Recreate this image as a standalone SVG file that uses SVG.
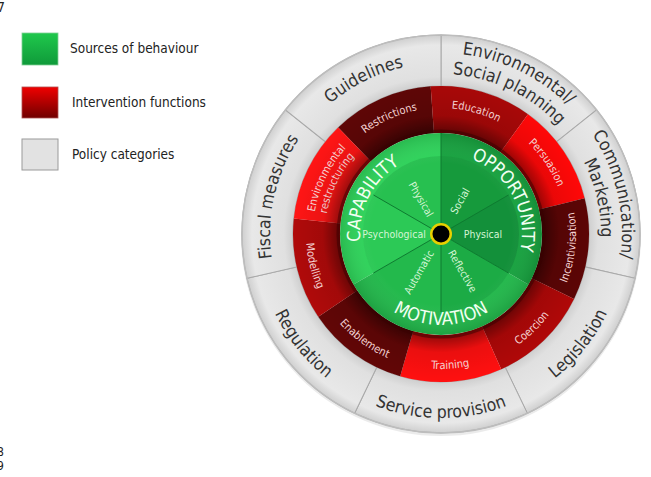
<svg xmlns="http://www.w3.org/2000/svg" xmlns:xlink="http://www.w3.org/1999/xlink" width="651" height="477" viewBox="0 0 651 477">
<style>
.f{font-family:"DejaVu Sans Condensed","DejaVu Sans",sans-serif;font-stretch:condensed}
.leg{font-size:13.5px;fill:#222}
.gl{font-size:17.5px;fill:#333}
.rl{font-size:11px;fill:#ffdcdc}
.gm{font-size:18px;fill:#f2fff2}
.gs{font-size:10.5px;fill:#d4f5d4}
.seg{stroke:#a9a9a9;stroke-width:1}
</style>
<defs>
<radialGradient id="gGray" gradientUnits="userSpaceOnUse" cx="441" cy="234" r="199">
<stop offset="0.74" stop-color="#cdcdcd"/>
<stop offset="0.79" stop-color="#e0e0e0"/>
<stop offset="0.95" stop-color="#e8e8e8"/>
<stop offset="1" stop-color="#cfcfcf"/>
</radialGradient>
<radialGradient id="gRed" gradientUnits="userSpaceOnUse" cx="441" cy="234" r="148">
<stop offset="0.68" stop-color="#000" stop-opacity="0.45"/>
<stop offset="0.8" stop-color="#000" stop-opacity="0.08"/>
<stop offset="1" stop-color="#000" stop-opacity="0"/>
</radialGradient>
<radialGradient id="gGreen" gradientUnits="userSpaceOnUse" cx="441" cy="234" r="101">
<stop offset="0.7" stop-color="#fff" stop-opacity="0"/>
<stop offset="1" stop-color="#000" stop-opacity="0.12"/>
</radialGradient>
<linearGradient id="lgG" x1="0" y1="0" x2="0" y2="1"><stop offset="0" stop-color="#1fc84c"/><stop offset="1" stop-color="#0f9a3a"/></linearGradient>
<linearGradient id="lgR" x1="0" y1="0" x2="0" y2="1"><stop offset="0" stop-color="#f00000"/><stop offset="1" stop-color="#700000"/></linearGradient>
<path id="graySeg" d="M354.66,54.71 A199,199 0 0 1 527.34,54.71 L505.21,100.66 A148,148 0 0 0 376.79,100.66 Z"/>
<path id="redSeg" d="M390.38,94.93 A148,148 0 0 1 491.62,94.93 L475.54,139.09 A101,101 0 0 0 406.46,139.09 Z"/>
<path id="wedge120" d="M441,234 L353.53,183.5 A101,101 0 0 1 528.47,183.5 Z"/>
<path id="wedge60" d="M441,234 L402,166.45 A78,78 0 0 1 480,166.45 Z"/>
<path id="cw171" d="M292.91,148.5 A171,171 0 0 1 589.09,148.5"/>
<path id="cw181" d="M284.25,143.5 A181,181 0 0 1 597.75,143.5"/>
<path id="cw160" d="M302.44,154 A160,160 0 0 1 579.56,154"/>
<path id="cw126" d="M331.88,171 A126,126 0 0 1 550.12,171"/>
<path id="cw128" d="M330.15,170 A128,128 0 0 1 551.85,170"/>
<path id="cw116" d="M340.54,176 A116,116 0 0 1 541.46,176"/>
<path id="cw81" d="M370.85,193.5 A81,81 0 0 1 511.15,193.5"/>
<path id="ccw184" d="M281.65,326 A184,184 0 0 0 600.35,326"/>
<path id="ccw135" d="M324.09,301.5 A135,135 0 0 0 557.91,301.5"/>
<path id="ccw91" d="M362.19,279.5 A91,91 0 0 0 519.81,279.5"/>
</defs>

<g class="f" fill="#222">
<text x="-3" y="12" font-size="14">7</text>
<text x="-3" y="456" font-size="12">8</text>
<text x="-3" y="470" font-size="12">9</text>
</g>

<g id="legend-sources">
<rect x="22" y="33" width="36" height="32" fill="url(#lgG)" stroke="#7fcf95" stroke-width="0.8"/>
<text class="f leg" x="70" y="53">Sources of behaviour</text>
</g>
<g id="legend-interventions">
<rect x="22" y="87" width="36" height="31" fill="url(#lgR)" stroke="#b05050" stroke-width="0.8"/>
<text class="f leg" x="72" y="107">Intervention functions</text>
</g>
<g id="legend-policy">
<rect x="22" y="139" width="36" height="31" fill="#e2e2e2" stroke="#9a9a9a" stroke-width="1"/>
<text class="f leg" x="72" y="159">Policy categories</text>
</g>

<!-- Policy categories -->
<g id="policy-ring">
<circle cx="441" cy="236" r="200" fill="#000" opacity="0.08"/>
<g id="env-social-planning">
<use href="#graySeg" class="seg" fill="url(#gGray)" transform="rotate(25.714 441 234)"/>
<text class="f gl" transform="rotate(25.714 441 234)"><textPath href="#cw181" startOffset="50%" text-anchor="middle">Environmental/</textPath></text>
<text class="f gl" transform="rotate(25.714 441 234)"><textPath href="#cw160" startOffset="50%" text-anchor="middle">Social planning</textPath></text>
</g>
<g id="communication-marketing">
<use href="#graySeg" class="seg" fill="url(#gGray)" transform="rotate(77.143 441 234)"/>
<text class="f gl" transform="rotate(77.143 441 234)"><textPath href="#cw181" startOffset="50%" text-anchor="middle">Communication/</textPath></text>
<text class="f gl" transform="rotate(77.143 441 234)"><textPath href="#cw160" startOffset="50%" text-anchor="middle">Marketing</textPath></text>
</g>
<g id="legislation">
<use href="#graySeg" class="seg" fill="url(#gGray)" transform="rotate(128.571 441 234)"/>
<text class="f gl" transform="rotate(-51.429 441 234)"><textPath href="#ccw184" startOffset="50%" text-anchor="middle">Legislation</textPath></text>
</g>
<g id="service-provision">
<use href="#graySeg" class="seg" fill="url(#gGray)" transform="rotate(180 441 234)"/>
<text class="f gl"><textPath href="#ccw184" startOffset="50%" text-anchor="middle">Service provision</textPath></text>
</g>
<g id="regulation">
<use href="#graySeg" class="seg" fill="url(#gGray)" transform="rotate(231.429 441 234)"/>
<text class="f gl" transform="rotate(51.429 441 234)"><textPath href="#ccw184" startOffset="50%" text-anchor="middle">Regulation</textPath></text>
</g>
<g id="fiscal-measures">
<use href="#graySeg" class="seg" fill="url(#gGray)" transform="rotate(282.857 441 234)"/>
<text class="f gl" transform="rotate(-77.143 441 234)"><textPath href="#cw171" startOffset="50%" text-anchor="middle">Fiscal measures</textPath></text>
</g>
<g id="guidelines">
<use href="#graySeg" class="seg" fill="url(#gGray)" transform="rotate(334.286 441 234)"/>
<text class="f gl" transform="rotate(-26.5 441 234)"><textPath href="#cw171" startOffset="50%" text-anchor="middle">Guidelines</textPath></text>
</g>
<circle cx="441" cy="234" r="199" fill="none" stroke="#bdbdbd" stroke-width="1.5"/>
</g>

<!-- Intervention functions -->
<g id="intervention-ring">
<g id="restrictions">
<use href="#redSeg" fill="#5e0606" transform="rotate(-24 441 234)"/>
<text class="f rl" transform="rotate(-24 441 234)"><textPath href="#cw126" startOffset="50%" text-anchor="middle">Restrictions</textPath></text>
</g>
<g id="education">
<use href="#redSeg" fill="#a80808" transform="rotate(16 441 234)"/>
<text class="f rl" transform="rotate(16 441 234)"><textPath href="#cw126" startOffset="50%" text-anchor="middle">Education</textPath></text>
</g>
<g id="persuasion">
<use href="#redSeg" fill="#ff0808" transform="rotate(56 441 234)"/>
<text class="f rl" transform="rotate(56 441 234)"><textPath href="#cw126" startOffset="50%" text-anchor="middle">Persuasion</textPath></text>
</g>
<g id="incentivisation">
<use href="#redSeg" fill="#5c0505" transform="rotate(96 441 234)"/>
<text class="f rl" transform="rotate(-84 441 234)"><textPath href="#ccw135" startOffset="50%" text-anchor="middle">Incentivisation</textPath></text>
</g>
<g id="coercion">
<use href="#redSeg" fill="#b00808" transform="rotate(136 441 234)"/>
<text class="f rl" transform="rotate(-44 441 234)"><textPath href="#ccw135" startOffset="50%" text-anchor="middle">Coercion</textPath></text>
</g>
<g id="training">
<use href="#redSeg" fill="#ff1010" transform="rotate(176 441 234)"/>
<text class="f rl" transform="rotate(-4 441 234)"><textPath href="#ccw135" startOffset="50%" text-anchor="middle">Training</textPath></text>
</g>
<g id="enablement">
<use href="#redSeg" fill="#620606" transform="rotate(216 441 234)"/>
<text class="f rl" transform="rotate(36 441 234)"><textPath href="#ccw135" startOffset="50%" text-anchor="middle">Enablement</textPath></text>
</g>
<g id="modelling">
<use href="#redSeg" fill="#b00a0a" transform="rotate(256 441 234)"/>
<text class="f rl" transform="rotate(76 441 234)"><textPath href="#ccw135" startOffset="50%" text-anchor="middle">Modelling</textPath></text>
</g>
<g id="environmental-restructuring">
<use href="#redSeg" fill="#ff1515" transform="rotate(296 441 234)"/>
<text class="f rl" transform="rotate(-64 441 234)"><textPath href="#cw128" startOffset="50%" text-anchor="middle">Environmental</textPath></text>
<text class="f rl" transform="rotate(-64 441 234)"><textPath href="#cw116" startOffset="50%" text-anchor="middle">restructuring</textPath></text>
</g>
<path d="M441,86 a148,148 0 1 0 0.01,0 Z M441,133 a101,101 0 1 0 0.01,0 Z" fill="url(#gRed)" fill-rule="evenodd" pointer-events="none"/>
</g>

<!-- Sources of behaviour -->
<g id="sources-core">
<circle cx="441" cy="234" r="103" fill="none" stroke="#3a0000" stroke-opacity="0.5" stroke-width="3"/>
<g id="opportunity">
<use href="#wedge120" fill="#17a23f" transform="rotate(60 441 234)"/>
<g id="social"><use href="#wedge60" fill="#169a3c" transform="rotate(30 441 234)"/>
<text class="f gs" x="460" y="201.1" dy="0.35em" text-anchor="middle" transform="rotate(-60 460 201.1)">Social</text></g>
<g id="physical-opportunity"><use href="#wedge60" fill="#13903a" transform="rotate(90 441 234)"/>
<text class="f gs" x="483" y="234" dy="0.35em" text-anchor="middle">Physical</text></g>
</g>
<g id="motivation">
<use href="#wedge120" fill="#22b84b" transform="rotate(180 441 234)"/>
<g id="reflective"><use href="#wedge60" fill="#1cab45" transform="rotate(150 441 234)"/>
<text class="f gs" x="462.5" y="271.2" dy="0.35em" text-anchor="middle" transform="rotate(60 462.5 271.2)">Reflective</text></g>
<g id="automatic"><use href="#wedge60" fill="#23b94c" transform="rotate(210 441 234)"/>
<text class="f gs" x="419" y="272.1" dy="0.35em" text-anchor="middle" transform="rotate(-60 419 272.1)">Automatic</text></g>
</g>
<g id="capability">
<use href="#wedge120" fill="#2ed35a" transform="rotate(300 441 234)"/>
<g id="psychological"><use href="#wedge60" fill="#2cc956" transform="rotate(270 441 234)"/>
<text class="f gs" x="394" y="234" dy="0.35em" text-anchor="middle">Psychological</text></g>
<g id="physical-capability"><use href="#wedge60" fill="#27c050" transform="rotate(330 441 234)"/>
<text class="f gs" x="421" y="199.4" dy="0.35em" text-anchor="middle" transform="rotate(60 421 199.4)">Physical</text></g>
</g>
<circle cx="441" cy="234" r="101" fill="url(#gGreen)"/>
<g stroke="#0e7a30" stroke-width="1">
<line x1="441" y1="234" x2="441" y2="133"/>
<line x1="441" y1="234" x2="508.5" y2="195"/>
<line x1="441" y1="234" x2="508.5" y2="273"/>
<line x1="441" y1="234" x2="441" y2="312"/>
<line x1="441" y1="234" x2="373.5" y2="273"/>
<line x1="441" y1="234" x2="373.5" y2="195"/>
</g>
<text class="f gm" transform="rotate(-63 441 234)"><textPath href="#cw81" startOffset="50%" text-anchor="middle">CAPABILITY</textPath></text>
<text class="f gm" transform="rotate(62 441 234)"><textPath href="#cw81" startOffset="50%" text-anchor="middle">OPPORTUNITY</textPath></text>
<text class="f gm"><textPath href="#ccw91" startOffset="50%" text-anchor="middle">MOTIVATION</textPath></text>
<g id="hub">
<circle cx="441" cy="234" r="11" fill="#e8d000"/>
<circle cx="441" cy="234" r="8.5" fill="#000"/>
</g>
</g>
<g id="connectors"/>
</svg>
